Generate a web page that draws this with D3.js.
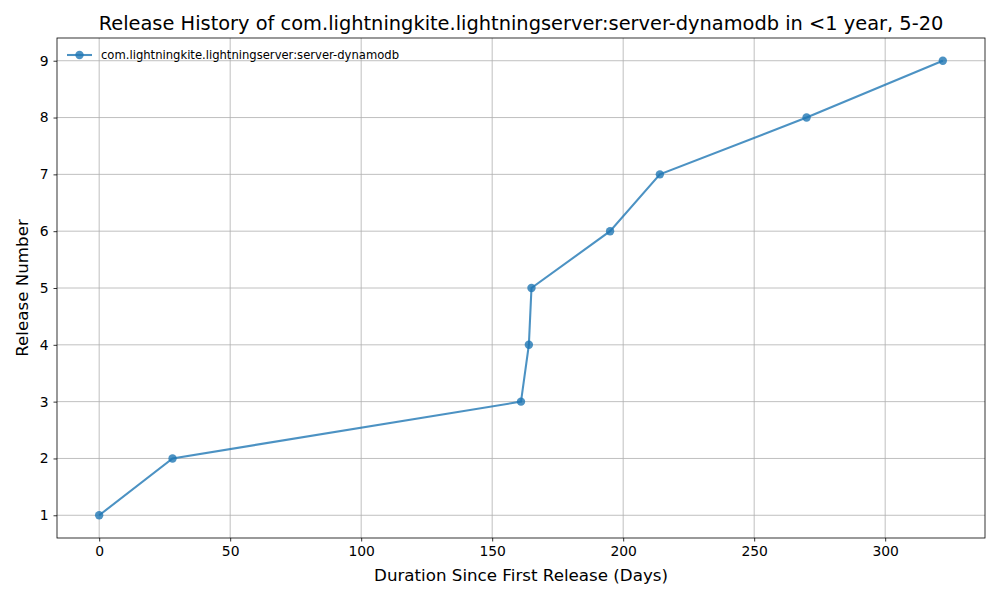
<!DOCTYPE html>
<html>
<head>
<meta charset="utf-8">
<script src="https://cdn.jsdelivr.net/npm/d3@7"></script>
<style>
body { margin: 0; background: #fff; }
text { font-family: "DejaVu Sans", sans-serif; fill: #000; }
</style>
</head>
<body>
<div id="chart"></div>
<script>
const seriesName = "com.lightningkite.lightningserver:server-dynamodb";
const days = [0, 28, 161, 164, 165, 195, 214, 270, 322];
const releases = [1, 2, 3, 4, 5, 6, 7, 8, 9];
const xTicks = [0, 50, 100, 150, 200, 250, 300];
const yTicks = [1, 2, 3, 4, 5, 6, 7, 8, 9];

const W = 1000, H = 600;
const m = {left: 57, right: 15, top: 38, bottom: 62};
const color = "#1f77b4";

const svg = d3.select("#chart").append("svg")
	.attr("width", W).attr("height", H);

const xPad = (d3.max(days) - d3.min(days)) * 0.05;
const yPad = (d3.max(releases) - d3.min(releases)) * 0.05;
const x = d3.scaleLinear()
	.domain([d3.min(days) - xPad, d3.max(days) + xPad])
	.range([m.left, W - m.right]);
const y = d3.scaleLinear()
	.domain([d3.min(releases) - yPad, d3.max(releases) + yPad])
	.range([H - m.bottom, m.top]);

// grid
svg.append("g").selectAll("line").data(xTicks).enter().append("line")
	.attr("x1", d => x(d)).attr("x2", d => x(d))
	.attr("y1", m.top).attr("y2", H - m.bottom)
	.style("stroke", "#b0b0b0").style("stroke-width", 0.8);
svg.append("g").selectAll("line").data(yTicks).enter().append("line")
	.attr("y1", d => y(d)).attr("y2", d => y(d))
	.attr("x1", m.left).attr("x2", W - m.right)
	.style("stroke", "#b0b0b0").style("stroke-width", 0.8);

// axes
const xAxis = svg.append("g")
	.attr("transform", "translate(0," + (H - m.bottom) + ")")
	.call(d3.axisBottom(x).tickValues(xTicks).tickSize(3.5).tickPadding(5).tickSizeOuter(0));
const yAxis = svg.append("g")
	.attr("transform", "translate(" + m.left + ",0)")
	.call(d3.axisLeft(y).tickValues(yTicks).tickSize(3.5).tickPadding(5).tickSizeOuter(0));
[xAxis, yAxis].forEach(a => {
	a.selectAll("text").style("font-size", "13.9px").style("font-family", "DejaVu Sans");
	a.select(".domain").remove();
	a.selectAll(".tick line").style("stroke", "#000").style("stroke-width", 0.8);
});

svg.append("rect")
	.attr("x", m.left).attr("y", m.top)
	.attr("width", W - m.left - m.right).attr("height", H - m.top - m.bottom)
	.style("fill", "none").style("stroke", "#000").style("stroke-width", 0.8);

// series
const pts = days.map((d, i) => [d, releases[i]]);
svg.append("path")
	.datum(pts)
	.attr("d", d3.line().x(d => x(d[0])).y(d => y(d[1])))
	.style("fill", "none").style("stroke", color).style("stroke-width", 2.08)
	.style("stroke-opacity", 0.8);
svg.append("g").selectAll("circle").data(pts).enter().append("circle")
	.attr("cx", d => x(d[0])).attr("cy", d => y(d[1])).attr("r", 4.2)
	.style("fill", color).style("fill-opacity", 0.8);

// title and labels
svg.append("text").attr("x", (m.left + W - m.right) / 2).attr("y", 30)
	.attr("text-anchor", "middle").style("font-size", "19.4px")
	.text("Release History of com.lightningkite.lightningserver:server-dynamodb in <1 year, 5-20");
svg.append("text").attr("x", (m.left + W - m.right) / 2).attr("y", 581)
	.attr("text-anchor", "middle").style("font-size", "16.7px")
	.text("Duration Since First Release (Days)");
svg.append("text")
	.attr("transform", "translate(28," + ((m.top + H - m.bottom) / 2) + ") rotate(-90)")
	.attr("text-anchor", "middle").style("font-size", "16.7px")
	.text("Release Number");

// legend
const lg = svg.append("g").attr("transform", "translate(67,55)");
lg.append("line").attr("x1", 0).attr("x2", 25)
	.style("stroke", color).style("stroke-width", 2.08).style("stroke-opacity", 0.8);
lg.append("circle").attr("cx", 12.5).attr("r", 4.2)
	.style("fill", color).style("fill-opacity", 0.8);
lg.append("text").attr("x", 34).attr("y", 4).style("font-size", "11.6px").text(seriesName);
</script>
</body>
</html>
